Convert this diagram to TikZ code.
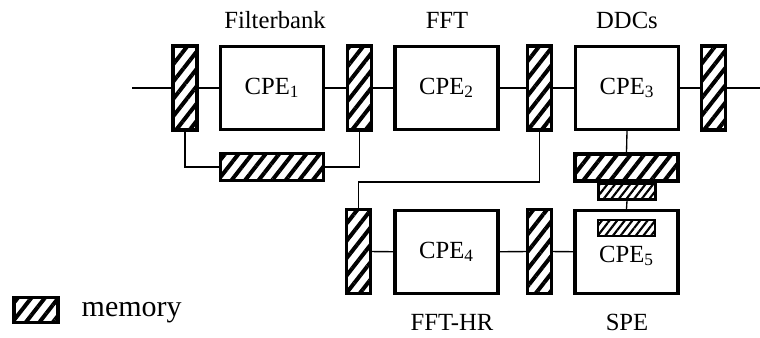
\documentclass[tikz,border=0pt]{standalone}
\usepackage{fontspec}
\setmainfont{Liberation Serif}
\usetikzlibrary{patterns.meta}

\tikzset{
  cpe/.style={draw, line width=2.6pt, fill=white, inner sep=0pt,
    minimum width=77pt, minimum height=62pt, font=\fontsize{18.5}{20}\selectfont},
  mem/.style={draw, line width=2.6pt, inner sep=0pt,
    pattern={Lines[angle=52,distance=8pt,line width=3pt]}},
  memfine/.style={draw, line width=1.8pt, inner sep=0pt,
    pattern={Lines[angle=52,distance=4.5pt,line width=1.6pt]}},
  bar/.style={mem, minimum width=18pt, minimum height=63pt},
  wide/.style={mem, minimum width=77pt, minimum height=20pt},
  lbl/.style={font=\fontsize{18.5}{20}\selectfont},
  wire/.style={line width=1pt}
}

\begin{document}
\begin{tikzpicture}[x=0.75pt,y=0.75pt]
\fill[white] (0,0) rectangle (760,338);
\useasboundingbox (0,0) rectangle (760,338);
% top row
\coordinate (in) at (132,250);
\coordinate (out) at (760,250);
\node[bar] (m1) at (185,250) {};
\node[cpe] (cpe1) at (272,250) {CPE\textsubscript{1}};
\node[bar] (m2) at (359.5,250) {};
\node[cpe] (cpe2) at (446.5,250) {CPE\textsubscript{2}};
\node[bar] (m3) at (539.5,250) {};
\node[cpe] (cpe3) at (627,250) {CPE\textsubscript{3}};
\node[bar] (m4) at (713.5,250) {};
\node[wide] (mfb) at (272,171) {};
\node[wide] (mdd) at (626.5,170.5) {};
\node[memfine, minimum width=43pt, minimum height=12pt] (sdd) at (627,146.5) {};
% bottom row
\node[bar] (m5) at (358.5,86.5) {};
\node[cpe] (cpe4) at (446.5,86) {CPE\textsubscript{4}};
\node[bar] (m6) at (539.5,86.5) {};
\node[cpe] (cpe5) at (626.5,86) {};
\node[memfine, minimum width=43pt, minimum height=12pt] (sin) at (626.5,110) {};
\node[lbl] (cpe5txt) at (626.5,82) {CPE\textsubscript{5}};
\coordinate (route) at (450,156);
% labels
\node[lbl] (lfb) at (275,318) {Filterbank};
\node[lbl] (lfft) at (447,318) {FFT};
\node[lbl] (lddc) at (627,318) {DDCs};
\node[lbl] (lhr) at (452,16) {FFT-HR};
\node[lbl] (lspe) at (627,16) {SPE};
% legend
\node[mem, line width=2.4pt, minimum width=33pt, minimum height=19pt] (key) at (36,28) {};
\node[font=\fontsize{22.5}{24}\selectfont, anchor=west] (keytxt) at (77,25) {memory};
% wires
\draw[wire] (in) -- (m1) -- (cpe1) -- (m2) -- (cpe2) -- (m3) -- (cpe3) -- (m4) -- (out);
\draw[wire] (m1.south) |- (mfb.west);
\draw[wire] (m2.south) |- (mfb.east);
\draw[wire] (cpe3.south) -- (mdd.north);
\draw[wire] (sdd.south) -- (cpe5.north);
\draw[wire] (m3.south) |- (route) -| (m5.north);
\draw[wire] (m5) -- (cpe4) -- (m6) -- (cpe5);
\end{tikzpicture}
\end{document}
